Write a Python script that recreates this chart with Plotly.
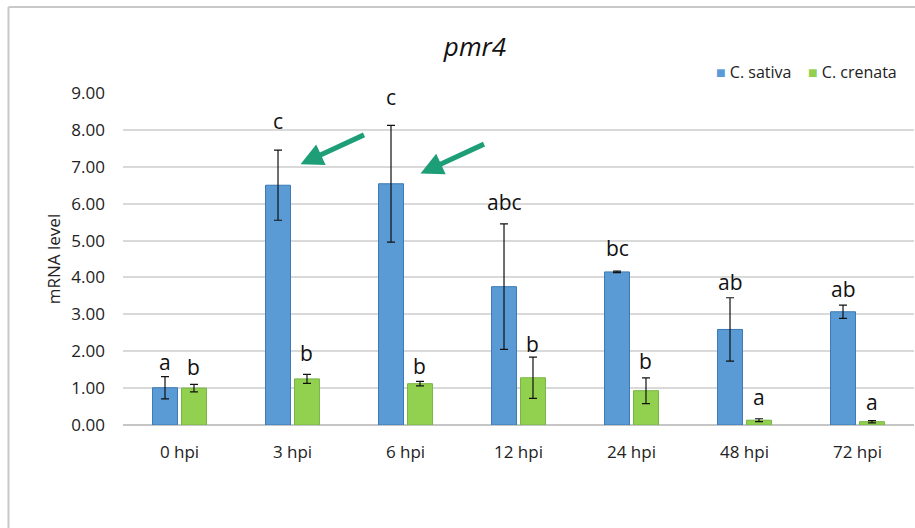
import plotly.graph_objects as go

# ---- data ----
timepoints = ["0 hpi", "3 hpi", "6 hpi", "12 hpi", "24 hpi", "48 hpi", "72 hpi"]
sativa_mean = [1.01, 6.50, 6.54, 3.75, 4.15, 2.59, 3.07]
sativa_err = [0.30, 0.95, 1.58, 1.70, 0.02, 0.86, 0.18]
crenata_mean = [1.00, 1.25, 1.12, 1.28, 0.93, 0.13, 0.09]
crenata_err = [0.10, 0.12, 0.06, 0.56, 0.35, 0.04, 0.03]
sativa_letters = ["a", "c", "c", "abc", "bc", "ab", "ab"]
crenata_letters = ["b", "b", "b", "b", "b", "a", "a"]
series_names = ["C. sativa", "C. crenata"]

# ---- style ----
W, H = 915, 528
M_L, M_R, M_T, M_B = 123, 1, 93, 103
FONT = "Open Sans"
BLUE, BLUE_EDGE = "#5b9bd5", "#3a78b5"
GREEN, GREEN_EDGE = "#92d050", "#78b443"
ARROW = "#1d9e77"
BARGAP, GROUPGAP = 0.487, 0.14
# pixel gap between each letter's baseline and the top of its error bar
sativa_gap = [5, 19, 18, 12, 13, 6, 6]
crenata_gap = [7, 11, 5, 3, 7, 12, 9]

plot_w = W - M_L - M_R
plot_h = H - M_T - M_B
cat_w = plot_w / len(timepoints)
bar_offset = (1 - BARGAP) * cat_w / 4  # centre of each bar relative to its group


def px_to_paper_x(px):
    return (px - M_L) / plot_w


def px_to_paper_y(py):
    return (H - M_B - py) / plot_h


fig = go.Figure()
fig.add_trace(go.Bar(
    name=series_names[0], x=timepoints, y=sativa_mean,
    marker=dict(color=BLUE, line=dict(color=BLUE_EDGE, width=1)),
    error_y=dict(type="data", array=sativa_err, color="#111111", thickness=1.2, width=4),
))
fig.add_trace(go.Bar(
    name=series_names[1], x=timepoints, y=crenata_mean,
    marker=dict(color=GREEN, line=dict(color=GREEN_EDGE, width=1)),
    error_y=dict(type="data", array=crenata_err, color="#111111", thickness=1.2, width=4),
))

annotations = []
for cat, m, e, lab, g in zip(timepoints, sativa_mean, sativa_err, sativa_letters, sativa_gap):
    annotations.append(dict(x=cat, y=m + e, text=lab, showarrow=False, xshift=-bar_offset,
                            yanchor="bottom", yshift=g - 6,
                            font=dict(family=FONT, size=21, color="#111111")))
for cat, m, e, lab, g in zip(timepoints, crenata_mean, crenata_err, crenata_letters, crenata_gap):
    annotations.append(dict(x=cat, y=m + e, text=lab, showarrow=False, xshift=bar_offset,
                            yanchor="bottom", yshift=g - 6,
                            font=dict(family=FONT, size=21, color="#111111")))

# highlighting arrows pointing at the 3 hpi and 6 hpi peaks
for cat, yv, xs in (("3 hpi", 7.07, 8), ("6 hpi", 6.82, 15)):
    annotations.append(dict(x=cat, y=yv, xshift=xs, text="", showarrow=True,
                            ax=65, ay=-30, arrowhead=2, arrowsize=0.9, arrowwidth=5,
                            arrowcolor=ARROW, standoff=0))

# compact legend: small coloured square followed by the series name
legend_y = px_to_paper_y(72)
for name, color, left in ((series_names[0], BLUE, 714), (series_names[1], GREEN, 806)):
    annotations.append(dict(
        xref="paper", yref="paper", x=px_to_paper_x(left), y=legend_y,
        xanchor="left", yanchor="middle", showarrow=False,
        text=f"<span style='color:{color}'>■</span> {name}",
        font=dict(family=FONT, size=16, color="#222222"),
    ))

shapes = [
    dict(type="line", xref="paper", yref="paper",
         x0=px_to_paper_x(8.5), x1=px_to_paper_x(W + 5),
         y0=px_to_paper_y(7), y1=px_to_paper_y(7),
         line=dict(color="#c8c8c8", width=2)),
    dict(type="line", xref="paper", yref="paper",
         x0=px_to_paper_x(8.5), x1=px_to_paper_x(8.5),
         y0=px_to_paper_y(7), y1=px_to_paper_y(H + 5),
         line=dict(color="#c8c8c8", width=2)),
]

fig.update_layout(
    width=W, height=H,
    margin=dict(l=M_L, r=M_R, t=M_T, b=M_B, autoexpand=False),
    paper_bgcolor="white", plot_bgcolor="white",
    barmode="group", bargap=BARGAP, bargroupgap=GROUPGAP,
    showlegend=False,
    title=dict(text="<i>pmr4</i>", x=px_to_paper_x(475), xref="paper", xanchor="center",
               y=1 - 47 / H, yanchor="middle",
               font=dict(family=FONT, size=26, color="#111111")),
    annotations=annotations,
    shapes=shapes,
    font=dict(family=FONT, color="#222222"),
)
fig.update_yaxes(
    range=[0, 9], dtick=1, tickformat=".2f",
    showgrid=True, gridcolor="#d9d9d9", gridwidth=1.5,
    zeroline=True, zerolinecolor="#c6c6c6", zerolinewidth=1.5,
    showline=False, ticks="", ticklabelstandoff=17,
    tickfont=dict(family=FONT, size=17, color="#222222"),
    title=dict(text="mRNA level", standoff=6, font=dict(family=FONT, size=17, color="#222222")),
)
fig.update_xaxes(
    showgrid=False, showline=False, ticks="", ticklabelstandoff=15,
    tickfont=dict(family=FONT, size=17, color="#222222"),
)

fig.write_html("out.html")
